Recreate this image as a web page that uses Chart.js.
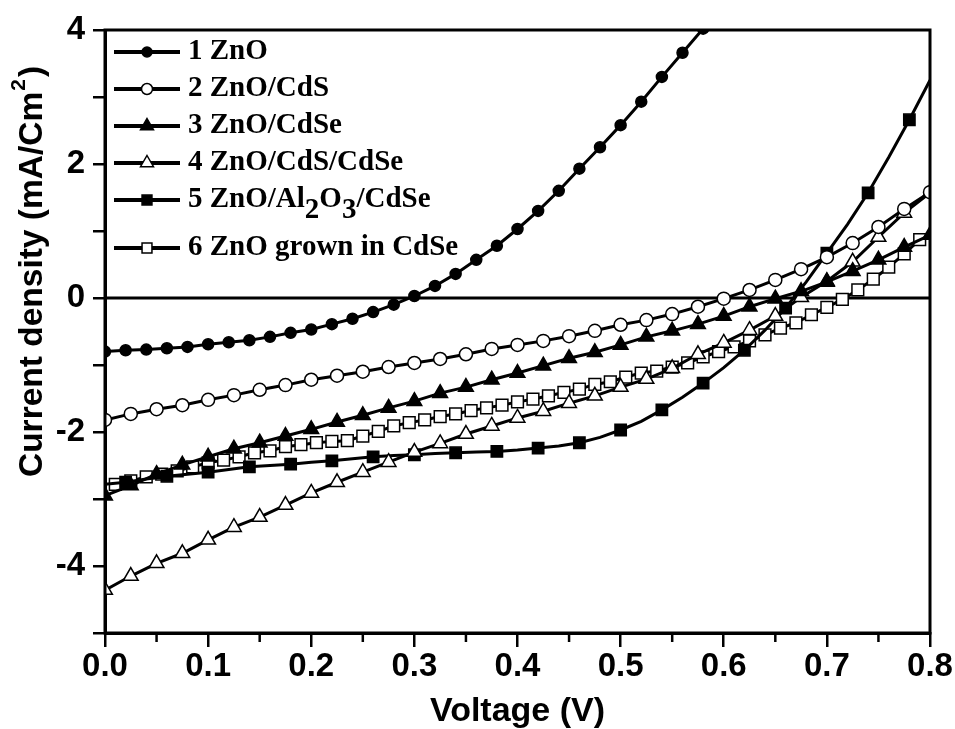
<!DOCTYPE html>
<html>
<head>
<meta charset="utf-8">
<script src="https://cdn.jsdelivr.net/npm/chart.js@4.4.0/dist/chart.umd.min.js"></script>
<style>
  html, body { margin: 0; padding: 0; background: #fff; }
  #wrap { width: 955px; height: 729px; }
</style>
</head>
<body>
<div id="wrap"><canvas id="myChart" width="955" height="729"></canvas></div>
<script>
// voltage grids (V)
var v_02 = [0, 0.02, 0.04, 0.06, 0.08, 0.1, 0.12, 0.14, 0.16, 0.18, 0.2, 0.22, 0.24, 0.26, 0.28, 0.3,
  0.32, 0.34, 0.36, 0.38, 0.4, 0.42, 0.44, 0.46, 0.48, 0.5, 0.52, 0.54, 0.56, 0.58, 0.6,
  0.62, 0.64, 0.66, 0.68, 0.7, 0.72, 0.74, 0.76, 0.78, 0.8];
var v_025 = [0, 0.025, 0.05, 0.075, 0.1, 0.125, 0.15, 0.175, 0.2, 0.225, 0.25, 0.275, 0.3, 0.325, 0.35,
  0.375, 0.4, 0.425, 0.45, 0.475, 0.5, 0.525, 0.55, 0.575, 0.6, 0.625, 0.65, 0.675, 0.7, 0.725, 0.75,
  0.775, 0.8];
var v_015 = [0.01, 0.025, 0.04, 0.055, 0.07, 0.085, 0.1, 0.115, 0.13, 0.145, 0.16, 0.175, 0.19, 0.205,
  0.22, 0.235, 0.25, 0.265, 0.28, 0.295, 0.31, 0.325, 0.34, 0.355, 0.37, 0.385, 0.4, 0.415, 0.43, 0.445,
  0.46, 0.475, 0.49, 0.505, 0.52, 0.535, 0.55, 0.565, 0.58, 0.595, 0.61, 0.625, 0.64, 0.655, 0.67, 0.685,
  0.7, 0.715, 0.73, 0.745, 0.76, 0.775, 0.79];

// current density (mA/cm2)
var j_zno = [-0.80, -0.78, -0.77, -0.75, -0.73, -0.69, -0.66, -0.63, -0.58, -0.52, -0.47, -0.39, -0.31,
  -0.21, -0.10, 0.03, 0.18, 0.36, 0.57, 0.78, 1.03, 1.30, 1.60, 1.93, 2.25, 2.58, 2.93, 3.30, 3.66, 4.02, 4.45];
var j_cds = [-1.82, -1.73, -1.66, -1.60, -1.52, -1.45, -1.37, -1.30, -1.22, -1.16, -1.10, -1.03, -0.97,
  -0.91, -0.84, -0.76, -0.70, -0.64, -0.57, -0.49, -0.40, -0.33, -0.24, -0.13, -0.01, 0.12, 0.27, 0.43,
  0.61, 0.82, 1.06, 1.33, 1.58];
var j_cdse = [-2.95, -2.80, -2.63, -2.49, -2.37, -2.25, -2.16, -2.06, -1.96, -1.85, -1.75, -1.64, -1.54,
  -1.42, -1.33, -1.22, -1.12, -1.01, -0.90, -0.81, -0.70, -0.58, -0.49, -0.39, -0.27, -0.13, -0.01, 0.10,
  0.24, 0.40, 0.57, 0.76, 0.94];
var j_cds_cdse = [-4.36, -4.15, -3.96, -3.81, -3.61, -3.42, -3.27, -3.09, -2.91, -2.75, -2.60, -2.45, -2.30,
  -2.17, -2.03, -1.91, -1.79, -1.69, -1.57, -1.46, -1.33, -1.21, -1.05, -0.84, -0.67, -0.48, -0.27, 0.01,
  0.25, 0.54, 0.91, 1.27, 1.57];
var j_al2o3 = [-2.78, -2.75, -2.70, -2.66, -2.63, -2.60, -2.56, -2.52, -2.50, -2.48, -2.45, -2.43, -2.40,
  -2.37, -2.35, -2.34, -2.32, -2.31, -2.30, -2.29, -2.27, -2.24, -2.21, -2.16, -2.08, -1.97, -1.84, -1.67,
  -1.48, -1.27, -1.04, -0.78, -0.48, -0.15, 0.24, 0.67, 1.10, 1.57, 2.10, 2.66, 3.25];
var j_grown = [-2.78, -2.73, -2.67, -2.63, -2.58, -2.52, -2.46, -2.42, -2.37, -2.31, -2.28, -2.22, -2.19,
  -2.16, -2.14, -2.13, -2.06, -1.99, -1.91, -1.86, -1.82, -1.77, -1.73, -1.68, -1.64, -1.60, -1.55, -1.51,
  -1.46, -1.41, -1.36, -1.29, -1.25, -1.18, -1.12, -1.09, -1.03, -0.97, -0.88, -0.80, -0.73, -0.64, -0.55,
  -0.45, -0.37, -0.25, -0.14, -0.02, 0.12, 0.28, 0.46, 0.66, 0.87];

var zero_v = [0, 0.8];
var zero_j = [0, 0];

var labels = ['1 ZnO', '2 ZnO/CdS', '3 ZnO/CdSe', '4 ZnO/CdS/CdSe', '5 ZnO/Al2O3/CdSe', '6 ZnO grown in CdSe'];
var x_ticks = [0, 0.1, 0.2, 0.3, 0.4, 0.5, 0.6, 0.7, 0.8];
var y_ticks = [-5, -4, -3, -2, -1, 0, 1, 2, 3, 4];

function pts(xs, ys) {
  return xs.map(function (x, i) { return { x: x, y: ys[i] }; });
}

function series(label, xs, ys, style, fill, r) {
  return {
    label: label,
    data: pts(xs, ys),
    borderColor: '#000',
    borderWidth: 3,
    pointStyle: style,
    pointRadius: r,
    pointBackgroundColor: fill,
    pointBorderColor: '#000',
    pointBorderWidth: 1.5,
    tension: 0
  };
}

var ds5 = series(labels[4], v_02, j_al2o3, 'rect', '#000', 8);
// Origin skipped every other symbol on this curve
ds5.pointRadius = function (c) { return c.dataIndex % 2 === 1 ? 8 : 0; };

var datasets = [
  series(labels[0], v_02.slice(0, j_zno.length), j_zno, 'circle', '#000', 5.5),
  series(labels[1], v_025, j_cds, 'circle', '#fff', 6.5),
  series(labels[2], v_025, j_cdse, 'triangle', '#000', 8.5),
  series(labels[3], v_025, j_cds_cdse, 'triangle', '#fff', 8.5),
  ds5,
  series(labels[5], v_015, j_grown, 'rect', '#fff', 8.3),
  { label: 'zero', data: pts(zero_v, zero_j), borderColor: '#000', borderWidth: 3, pointRadius: 0 }
];

function drawMarker(ctx, style, x, y, r, fill) {
  ctx.beginPath();
  if (style === 'circle') {
    ctx.arc(x, y, r, 0, Math.PI * 2);
  } else if (style === 'triangle') {
    ctx.moveTo(x, y - r);
    ctx.lineTo(x + r * 0.866, y + r * 0.5);
    ctx.lineTo(x - r * 0.866, y + r * 0.5);
    ctx.closePath();
  } else {
    var s = r * Math.SQRT1_2;
    ctx.rect(x - s, y - s, 2 * s, 2 * s);
  }
  ctx.fillStyle = fill;
  ctx.fill();
  ctx.lineWidth = 1.5;
  ctx.strokeStyle = '#000';
  ctx.stroke();
}

var legendRows = [
  { parts: [['1 ZnO', 0]], style: 'circle', fill: '#000', r: 5, y: 52 },
  { parts: [['2 ZnO/CdS', 0]], style: 'circle', fill: '#fff', r: 5.5, y: 89 },
  { parts: [['3 ZnO/CdSe', 0]], style: 'triangle', fill: '#000', r: 7.5, y: 126 },
  { parts: [['4 ZnO/CdS/CdSe', 0]], style: 'triangle', fill: '#fff', r: 7.5, y: 163 },
  { parts: [['5 ZnO/Al', 0], ['2', 1], ['O', 0], ['3', 1], ['/CdSe', 0]], style: 'rect', fill: '#000', r: 7, y: 200 },
  { parts: [['6 ZnO grown in CdSe', 0]], style: 'rect', fill: '#fff', r: 7, y: 248 }
];

var decor = {
  id: 'decor',
  afterDraw: function (chart) {
    var ctx = chart.ctx;
    var a = chart.chartArea;
    ctx.save();
    // frame
    ctx.strokeStyle = '#000';
    ctx.lineWidth = 3;
    ctx.strokeRect(a.left, a.top, a.right - a.left, a.bottom - a.top);
    // minor x ticks
    var xs = chart.scales.x;
    ctx.lineWidth = 2.5;
    for (var i = 0; i < xs.ticks.length - 1; i++) {
      var px = xs.getPixelForValue((xs.ticks[i].value + xs.ticks[i + 1].value) / 2);
      ctx.beginPath();
      ctx.moveTo(px, a.bottom);
      ctx.lineTo(px, a.bottom + 9);
      ctx.stroke();
    }
    // y title
    var big = 'bold 33.5px "Liberation Sans", Arial, sans-serif';
    var small = 'bold 21px "Liberation Sans", Arial, sans-serif';
    ctx.save();
    ctx.translate(33, 273);
    ctx.rotate(-Math.PI / 2);
    ctx.fillStyle = '#000';
    ctx.textBaseline = 'middle';
    ctx.font = big;
    var t1 = 'Current density (mA/Cm';
    var w1 = ctx.measureText(t1).width;
    ctx.font = small;
    var w2 = ctx.measureText('2').width;
    ctx.font = big;
    var w3 = ctx.measureText(')').width;
    var x0 = -(w1 + w2 + w3) / 2;
    ctx.textAlign = 'left';
    ctx.fillText(t1, x0, 0);
    ctx.font = small;
    ctx.fillText('2', x0 + w1 + 1, -14);
    ctx.font = big;
    ctx.fillText(')', x0 + w1 + w2 + 3, 0);
    ctx.restore();
    // legend
    ctx.textBaseline = 'middle';
    ctx.textAlign = 'left';
    ctx.font = 'bold 29px "Liberation Serif", "Times New Roman", serif';
    legendRows.forEach(function (row) {
      ctx.strokeStyle = '#000';
      ctx.lineWidth = 4;
      ctx.beginPath();
      ctx.moveTo(114, row.y);
      ctx.lineTo(180, row.y);
      ctx.stroke();
      drawMarker(ctx, row.style, 147, row.y, row.r, row.fill);
      var tx = 188;
      ctx.fillStyle = '#000';
      row.parts.forEach(function (p) {
        ctx.fillText(p[0], tx, row.y + (p[1] ? 11 : 0));
        tx += ctx.measureText(p[0]).width;
      });
    });
    ctx.restore();
  }
};

var tickFont = { family: '"Liberation Sans", Arial, sans-serif', size: 33, weight: 'bold' };

var ctx = document.getElementById('myChart').getContext('2d');
var myChart = new Chart(ctx, {
  type: 'line',
  data: { datasets: datasets },
  options: {
    responsive: false,
    animation: false,
    devicePixelRatio: 1,
    layout: { padding: { top: 30, right: 25, left: 0, bottom: 0 } },
    plugins: { legend: { display: false }, tooltip: { enabled: false } },
    scales: {
      x: {
        type: 'linear',
        min: 0,
        max: 0.8,
        afterFit: function (s) { s.height = 96; },
        afterBuildTicks: function (s) { s.ticks = x_ticks.map(function (v) { return { value: v }; }); },
        ticks: {
          color: '#000',
          font: tickFont,
          padding: 0,
          maxRotation: 0,
          autoSkip: false,
          callback: function (v) { return v.toFixed(1); }
        },
        grid: { drawOnChartArea: false, drawTicks: true, tickLength: 14, color: '#000', lineWidth: 2.5 },
        border: { color: '#000', width: 3 },
        title: {
          display: true,
          text: 'Voltage (V)',
          color: '#000',
          font: { family: '"Liberation Sans", Arial, sans-serif', size: 34, weight: 'bold', lineHeight: 1 },
          padding: { top: 0, bottom: 0 }
        }
      },
      y: {
        type: 'linear',
        min: -5,
        max: 4,
        afterFit: function (s) { s.width = 105; },
        afterBuildTicks: function (s) { s.ticks = y_ticks.map(function (v) { return { value: v }; }); },
        ticks: {
          color: '#000',
          font: tickFont,
          padding: 8,
          autoSkip: false,
          callback: function (v) { return (v % 2 === 0) ? String(v) : ''; }
        },
        grid: { drawOnChartArea: false, drawTicks: true, tickLength: 12, color: '#000', lineWidth: 2.5 },
        border: { color: '#000', width: 3 }
      }
    }
  },
  plugins: [decor]
});
</script>
</body>
</html>
